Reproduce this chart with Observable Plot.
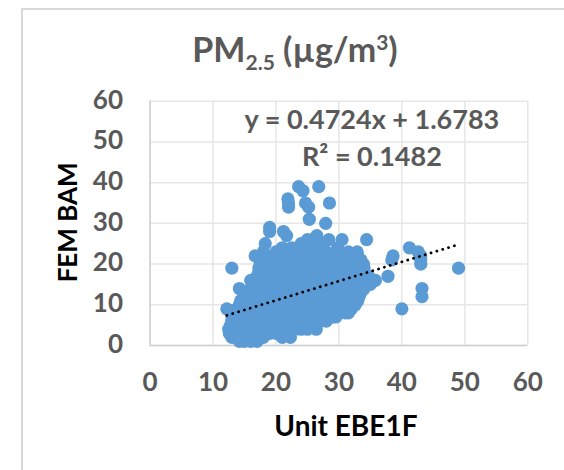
<!DOCTYPE html>
<html><head><meta charset="utf-8">
<script src="https://cdn.jsdelivr.net/npm/d3@7"></script>
<script src="https://cdn.jsdelivr.net/npm/@observablehq/plot@0.6"></script>
<style>
html,body{margin:0;padding:0;background:#fff;width:564px;height:470px;overflow:hidden;position:relative}
#frame{position:absolute;left:21px;top:8px;width:700px;height:460px;border:2px solid #d9d9d9}
#chart{position:absolute;left:0;top:0}
#title{position:absolute;left:0;width:590px;top:28px;text-align:center;font:700 34px Lato,sans-serif;color:#595959;white-space:nowrap}
#title sub,#title sup{font-size:21px;line-height:0}
</style></head><body>
<div id="frame"></div>
<div id="chart"></div>
<div id="title">PM<sub>2.5</sub> (µg/m<sup>3</sup>)</div>
<script>
const titleX = "Unit EBE1F", titleY = "FEM BAM";
const equation = "y = 0.4724x + 1.6783", rSquared = "R² = 0.1482";
const ticks = [0,10,20,30,40,50,60];
const femBam = [1,2,3,4,5,6,7,8,9,10,11,12,13,14,15,16,17,18,19,20,21,22,23,24,25,26,27,28,29,30,31,34,35,36,38,39];
const unitByFem = [
 [14.2,15,16,17],
 [13,14.5,16,17,18,21,22.3],
 [12.6,14,15,16,17,18,19,20,21.2],
 [12.5,13.5,15,16,17,18,19,20,21,22,23,24,25,26.4],
 [12.8,14,15,16,17,18,19,20,21,22,23,24,25,26.3],
 [13,14,15,16,17,18,19,20,21,22,23,24,25,26,27,28],
 [13,14,15,16,17,18,19,20,21,22,23,24,25,26,27,28,29,29.5],
 [13,14,15,16,17,18,19,20,21,22,23,24,25,26,27,28,29,30,31,31.5],
 [12.2,13.8,15,16,17,18,19,20,21,22,23,24,25,26,27,28,29,30,31,32],
 [14.2,15,16,17,18,19,20,21,22,23,24,25,26,27,28,29,30,31,32,32.6],
 [14.4,15.5,16,17,18,19,20,21,22,23,24,25,26,27,28,29,30,31,32,33],
 [15,16,17,18,19,20,21,22,23,24,25,26,27,28,29,30,31,32,33.2],
 [15.5,16.5,17,18,19,20,21,22,23,24,25,26,27,28,29,30,31,32,33,33.5],
 [14.2,16,17,18,19,20,21,22,23,24,25,26,27,28,29,30,31,32,33,34],
 [16.5,17.5,18,19,20,21,22,23,24,25,26,27,28,29,30,31,32,33,34,35],
 [16,17,18,19,20,21,22,23,24,25,26,27,28,29,30,31,32,33,34,35.8],
 [17,18,19,20,21,22,23,24,25,26,27,28,29,30,31,32,33,34.7,37.8],
 [17.3,18,19,20,21,22,23,24,25,26,27,28,29,30,31,32,33,34],
 [13,17.3,18,19,20,21,22,23,24,25,26,27,28,29,30,31,32,33,34,49],
 [17.5,18,19,20,21,22,23,24,25,26,27,28,29,30,31,32,33,33.9,43],
 [17.5,18.5,19.5,20.5,21.5,22.5,23.5,24.5,25.5,26.5,27.5,28.5,29.5,30.5,31.5,32.5,33.5,38.4,43],
 [16.7,18.4,19.5,20.5,21.5,22.5,23.5,24.5,25.5,26.5,27.5,28.5,29.5,30.5,31.5,33,38.6,43],
 [18,20,21,22,23,24,25,26,27,28,31.5,32.9,42.6],
 [21,22.5,24,25,26,27,27.5,29.8,41.2],
 [18.3,24,26,27],
 [25,25.8,28.4,30.5,34.4],
 [21.7,26.5],
 [19,21.2],
 [19],
 [27.9],
 [25.3],
 [22,25.2],
 [22,24.7,28.5],
 [21.9],
 [24.3],
 [23.6,26.8]
];
const scatter = femBam.flatMap((y,i)=>unitByFem[i].map(x=>({x,y})));
const lone = [{x:40,y:9},{x:43.2,y:12},{x:43.2,y:14}];
const trendX = [12.2,49], trendY = [7.4,24.8];
const trend = trendX.map((x,i)=>({x,y:trendY[i]}));
const grey = "#595959";
const chart = Plot.plot({
  width:564, height:470,
  marginLeft:149.5, marginRight:36.7, marginTop:100.7, marginBottom:125,
  style:{background:"transparent",fontFamily:"Lato, sans-serif",overflow:"visible"},
  x:{domain:[0,60]}, y:{domain:[0,60]},
  marks:[
    Plot.gridX(ticks,{stroke:"#e6e6e6",strokeOpacity:1,strokeWidth:1.5}),
    Plot.gridY(ticks,{stroke:"#e6e6e6",strokeOpacity:1,strokeWidth:1.5}),
    Plot.ruleX([0],{stroke:"#d0d0d0",strokeWidth:1.5}),
    Plot.ruleY([0],{stroke:"#d0d0d0",strokeWidth:1.5}),
    Plot.axisX({ticks,tickSize:0,tickPadding:27,fontSize:26,fontWeight:"bold",fill:grey,label:null}),
    Plot.axisY({ticks,tickSize:0,tickPadding:27,fontSize:26,fontWeight:"bold",fill:grey,label:null,dy:-1}),
    Plot.dot(scatter.concat(lone),{x:"x",y:"y",r:6.6,fill:"#5B9BD5",stroke:"none"}),
    Plot.line(trend,{x:"x",y:"y",stroke:"#000",strokeWidth:2.8,strokeLinecap:"round",strokeDasharray:"0.1 6"}),
    Plot.text([equation],{frameAnchor:"top",dx:33,dy:9,fontSize:27,fontWeight:"bold",fill:grey}),
    Plot.text([rSquared],{frameAnchor:"top",dx:33,dy:46,fontSize:27,fontWeight:"bold",fill:grey}),
    Plot.text([titleX],{frameAnchor:"bottom",dx:7,dy:90,fontSize:28,fontWeight:"bold",fill:"#000"}),
    Plot.text([titleY],{frameAnchor:"left",textAnchor:"middle",rotate:-90,dx:-81,dy:-1,fontSize:26,fontWeight:"bold",fill:"#000"})
  ]
});
document.getElementById("chart").append(chart);
</script>
</body></html>
